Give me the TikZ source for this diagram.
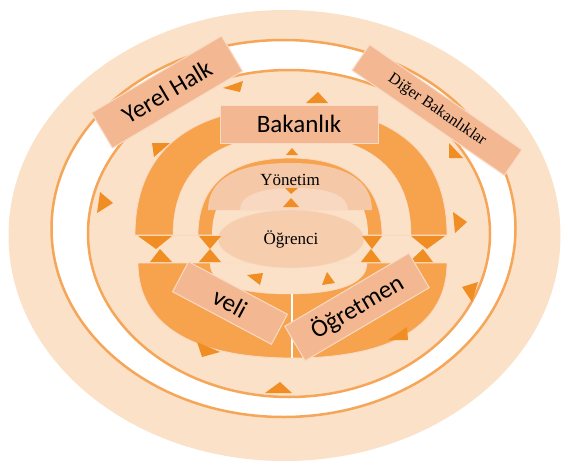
\documentclass[tikz,border=0pt]{standalone}
\usepackage{fontspec}
\setmainfont{Liberation Serif}
\newfontfamily\calib{Carlito}
\usetikzlibrary{positioning,shapes.geometric}
\definecolor{ringcol}{RGB}{251,225,199}
\definecolor{linecol}{RGB}{246,166,88}
\definecolor{arccol}{RGB}{247,163,78}
\definecolor{tricol}{RGB}{240,142,35}
\definecolor{boxcol}{RGB}{243,184,146}
\definecolor{edgecol}{RGB}{250,218,196}
\definecolor{mgmtcol}{RGB}{245,201,167}
\definecolor{humpcol}{RGB}{248,216,192}
\definecolor{pupilcol}{RGB}{246,206,174}
\def\dome#1#2#3#4{({#1-#3},{#2}) .. controls ({#1-#3},{#2-0.65*(#4)}) and ({#1-0.65*#3},{#2-(#4)}) .. ({#1},{#2-(#4)}) .. controls ({#1+0.65*#3},{#2-(#4)}) and ({#1+#3},{#2-0.65*(#4)}) .. ({#1+#3},{#2})}

\begin{document}
\begin{tikzpicture}[
   x=1pt, y=-1pt,
   ring/.style={draw=linecol, line width=2.5pt},
   band/.style={fill=arccol, draw=edgecol, line width=0.8pt},
   tri/.style={fill=tricol},
   lbox/.style={draw=edgecol, line width=1pt, fill=boxcol, inner sep=0pt,
                font=\calib\fontsize{25}{25}\selectfont},
   lbl/.style={font=\fontsize{17}{17}\selectfont},
]
\useasboundingbox (0,0) rectangle (565,463);
% rings
\fill[ringcol] (284.5,235.5) ellipse [x radius=276, y radius=225.5];
\filldraw[ring, fill=white] (283.5,228.5) ellipse [x radius=232, y radius=188.5];
\filldraw[ring, fill=ringcol] (289,233.5) ellipse [x radius=201, y radius=163.5];
% upper half
\filldraw[band] \dome{291}{235}{156}{128} -- cycle;
\filldraw[fill=ringcol, draw=edgecol] \dome{292}{235}{119}{100} -- cycle;
% lower half
\filldraw[band] \dome{292.5}{263}{154.5}{-95} -- cycle;
\filldraw[fill=ringcol, draw=edgecol] \dome{288.5}{263}{78.5}{-31} -- cycle;
\draw[white, line width=1.2pt] (292,294) -- (292,358);
% inner arc and centre
\filldraw[band] \dome{290}{235}{92}{77} -- cycle;
\fill[ringcol] \dome{290}{235}{78}{64} -- cycle;
\fill[mgmtcol] \dome{290}{210}{82}{47} -- cycle;
\fill[humpcol] \dome{294}{210}{54}{22} -- cycle;
\node[ellipse, draw=edgecol, fill=pupilcol, minimum width=146pt, minimum height=58pt,
      lbl] (ogr) at (291,239) {Öğrenci};
\node[lbl] (yon) at (290,180) {Yönetim};
% hourglasses
\fill[tri] (138,236) -- (172,236) -- (156,249) -- cycle;
\fill[tri] (150,262) -- (172,262) -- (160,249) -- cycle;
\fill[tri] (199,236) -- (221,236) -- (210,249) -- cycle;
\fill[tri] (199,262) -- (221,262) -- (210,249) -- cycle;
\fill[tri] (362,236) -- (382,236) -- (372,249) -- cycle;
\fill[tri] (361,262) -- (381,262) -- (371,249) -- cycle;
\fill[tri] (411,236) -- (445,236) -- (427,249) -- cycle;
\fill[tri] (409,262) -- (433,262) -- (423,249) -- cycle;
% arrow heads
\fill[tri] (223,88) -- (243,81) -- (240,92) -- cycle;
\fill[tri] (306,103) -- (328,103) -- (318,92) -- cycle;
\fill[tri] (152,143) -- (170,143) -- (154,157) -- cycle;
\fill[tri] (449,143) -- (449,158) -- (463,158) -- cycle;
\fill[tri] (100,192) -- (113,203) -- (97,213) -- cycle;
\fill[tri] (453,212) -- (467,222) -- (455,233) -- cycle;
\fill[tri] (462,287) -- (478,282) -- (472,302) -- cycle;
\fill[tri] (388,340) -- (408,340) -- (407,327) -- cycle;
\fill[tri] (197,342) -- (220,352) -- (202,357) -- cycle;
\fill[tri] (265,393) -- (292,393) -- (280,382) -- cycle;
\fill[tri] (286,155) -- (298,155) -- (292,148) -- cycle;
\fill[tri] (285,188) -- (298,188) -- (291,194) -- cycle;
\fill[tri] (283,207) -- (299,207) -- (291,198) -- cycle;
\fill[tri] (247,275) -- (263,273) -- (260,285) -- cycle;
\fill[tri] (322,285) -- (335,283) -- (327,272) -- cycle;
% labels
\node[lbox, minimum width=151pt, minimum height=41pt, rotate=30.6] (halk) at (167,92) {Yerel Halk};
\node[lbox, minimum width=185pt, minimum height=31pt, rotate=-34.6,
      font=\fontsize{16}{16}\selectfont] (diger) at (437,110) {Diğer Bakanlıklar};
\node[lbox, minimum width=158pt, minimum height=38pt] (bak) at (299,124) {Bakanlık};
\node[lbox, minimum width=112pt, minimum height=34pt, rotate=-28] (veli) at (230,303) {veli};
\node[lbox, minimum width=144pt, minimum height=40pt, rotate=30.5] (ogrt) at (357,307) {Öğretmen};
\end{tikzpicture}
\end{document}
